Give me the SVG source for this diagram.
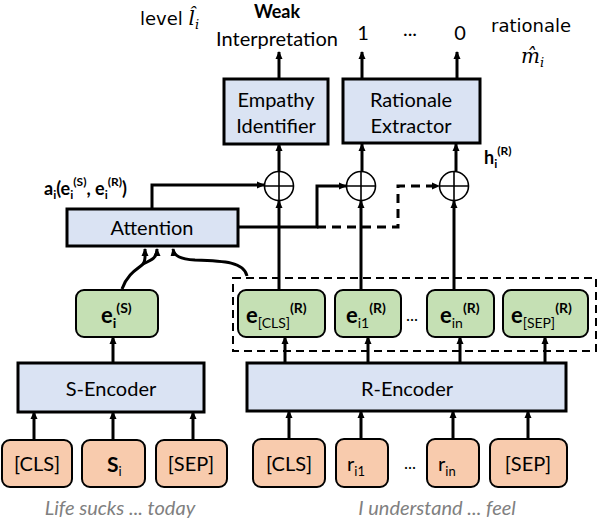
<svg xmlns="http://www.w3.org/2000/svg" width="598" height="520" viewBox="0 0 598 520">
<defs>
<marker id="ah" markerWidth="8" markerHeight="8" refX="7" refY="4" orient="auto" markerUnits="userSpaceOnUse">
<path d="M0,0.5 L8,4 L0,7.5 Z" fill="#000"/>
</marker>
<style>
text{font-family:Lato,"Liberation Sans",sans-serif;fill:#000}
.blue{fill:#dae3f3;stroke:#000;stroke-width:3}
.green{fill:#c5e0b4;stroke:#000;stroke-width:2}
.orange{fill:#f8cbad;stroke:#000;stroke-width:2}
.ln{fill:none;stroke:#000;stroke-width:3}
.dl{fill:none;stroke:#000;stroke-width:3;stroke-dasharray:9,6}
.c{fill:#fff;stroke:#000;stroke-width:1.6}
.lb{font-size:20px;text-anchor:middle}
.gray{font-size:20px;font-style:italic;fill:#808080;text-anchor:middle}
.math{font-family:"DejaVu Serif","Liberation Serif",serif;font-style:italic}
.geo{font-family:"DejaVu Sans","Liberation Sans",sans-serif}
</style>
</defs>

<g id="labels-top">
<text class="geo" x="140" y="25" font-size="18">level <tspan class="math" font-size="20">l̂</tspan><tspan class="math" font-size="13" dy="4">i</tspan></text>
<text x="277" y="18" font-size="18" font-weight="bold" text-anchor="middle">Weak</text>
<text x="277" y="46" class="lb">Interpretation</text>
<text x="363" y="40" class="lb">1</text>
<text x="410" y="36" class="lb">...</text>
<text x="460" y="40" class="lb">0</text>
<text class="geo" x="531" y="32" font-size="18" text-anchor="middle">rationale</text>
<text class="math" x="521" y="63" font-size="20">m̂<tspan font-size="13" dy="4">i</tspan></text>
</g>

<g id="connectors">
<line class="ln" x1="279" y1="79" x2="279" y2="52" marker-end="url(#ah)"/>
<line class="ln" x1="362" y1="79" x2="362" y2="52" marker-end="url(#ah)"/>
<line class="ln" x1="457" y1="79" x2="457" y2="52" marker-end="url(#ah)"/>
<line class="ln" x1="279" y1="171" x2="279" y2="144" marker-end="url(#ah)"/>
<line class="ln" x1="362" y1="171" x2="362" y2="144" marker-end="url(#ah)"/>
<line class="ln" x1="456" y1="171" x2="456" y2="144" marker-end="url(#ah)"/>
<line class="ln" x1="279" y1="290" x2="279" y2="201" marker-end="url(#ah)"/>
<line class="ln" x1="361" y1="290" x2="361" y2="201" marker-end="url(#ah)"/>
<line class="ln" x1="454" y1="290" x2="454" y2="201" marker-end="url(#ah)"/>
<polyline class="ln" points="152,209 152,185 264,185" marker-end="url(#ah)"/>
<polyline class="ln" points="238,227 317,227 317,186 346,186" marker-end="url(#ah)"/>
<polyline class="dl" points="317,227 398,227 398,186 439,186" marker-end="url(#ah)"/>
<path class="ln" d="M122,289 C128,272 140,268 143,264 C146,260 145,256 145,249" marker-end="url(#ah)"/>
<path class="ln" d="M143,264 C152,260 157,258 157,249" marker-end="url(#ah)"/>
<path class="ln" d="M247,276 C244,262 225,261 195,260 C180,259 174,256 173,249" marker-end="url(#ah)"/>
<line class="ln" x1="113" y1="363" x2="113" y2="337" marker-end="url(#ah)"/>
<line class="ln" x1="285" y1="363" x2="285" y2="337" marker-end="url(#ah)"/>
<line class="ln" x1="368" y1="363" x2="368" y2="337" marker-end="url(#ah)"/>
<line class="ln" x1="460" y1="363" x2="460" y2="337" marker-end="url(#ah)"/>
<line class="ln" x1="545" y1="363" x2="545" y2="337" marker-end="url(#ah)"/>
<line class="ln" x1="34" y1="440" x2="34" y2="412" marker-end="url(#ah)"/>
<line class="ln" x1="113" y1="440" x2="113" y2="412" marker-end="url(#ah)"/>
<line class="ln" x1="193" y1="440" x2="193" y2="412" marker-end="url(#ah)"/>
<line class="ln" x1="289" y1="439" x2="289" y2="411" marker-end="url(#ah)"/>
<line class="ln" x1="361" y1="439" x2="361" y2="411" marker-end="url(#ah)"/>
<line class="ln" x1="453" y1="439" x2="453" y2="411" marker-end="url(#ah)"/>
<line class="ln" x1="528" y1="439" x2="528" y2="411" marker-end="url(#ah)"/>
<rect x="233" y="278" width="363" height="73" fill="none" stroke="#000" stroke-width="2" stroke-dasharray="8,5"/>
</g>

<g id="empathy-identifier">
<rect class="blue" x="224" y="79" width="104" height="65"/>
<text class="lb" x="276" y="107">Empathy</text>
<text class="lb" x="276" y="133">Identifier</text>
</g>
<g id="rationale-extractor">
<rect class="blue" x="343" y="79" width="137" height="64"/>
<text class="lb" x="411" y="107">Rationale</text>
<text class="lb" x="411" y="133">Extractor</text>
</g>

<g id="plus1"><circle class="c" cx="279" cy="186" r="14.5"/><path d="M264.5,186H293.5M279,171.5V200.5" stroke="#000" stroke-width="1.6"/></g>
<g id="plus2"><circle class="c" cx="361" cy="186" r="14.5"/><path d="M346.5,186H375.5M361,171.5V200.5" stroke="#000" stroke-width="1.6"/></g>
<g id="plus3"><circle class="c" cx="454" cy="186" r="14.5"/><path d="M439.5,186H468.5M454,171.5V200.5" stroke="#000" stroke-width="1.6"/></g>

<g id="h-label"><text x="484" y="164" font-size="18" font-weight="bold">h<tspan font-size="12" dy="4">i</tspan><tspan font-size="12" dy="-13">(R)</tspan></text></g>
<g id="a-label"><text x="44" y="195" font-size="18" font-weight="bold">a<tspan font-size="12" dy="4">i</tspan><tspan dy="-4">(e</tspan><tspan font-size="12" dy="4">i</tspan><tspan font-size="12" dy="-13">(S)</tspan><tspan dy="9">, e</tspan><tspan font-size="12" dy="4">i</tspan><tspan font-size="12" dy="-13">(R)</tspan><tspan dy="9">)</tspan></text></g>

<g id="attention">
<rect class="blue" x="67" y="209" width="171" height="37"/>
<text class="lb" x="152" y="235">Attention</text>
</g>

<g id="e-s">
<rect class="green" x="76" y="290" width="82" height="47" rx="8"/>
<text x="101" y="323" font-size="22" font-weight="bold">e<tspan font-size="14" dy="5">i</tspan><tspan font-size="14" dy="-15">(S)</tspan></text>
</g>
<g id="e-cls">
<rect class="green" x="238" y="290" width="87" height="47" rx="8"/>
<text x="246" y="323" font-size="22" font-weight="bold">e<tspan font-size="14" font-weight="normal" dy="5">[CLS]</tspan><tspan font-size="14" dy="-15">(R)</tspan></text>
</g>
<g id="e-i1">
<rect class="green" x="335" y="290" width="66" height="47" rx="8"/>
<text x="346" y="323" font-size="22" font-weight="bold">e<tspan font-size="14" font-weight="normal" dy="5">i1</tspan><tspan font-size="14" dy="-15">(R)</tspan></text>
</g>
<text x="412" y="321" font-size="17" text-anchor="middle">...</text>
<g id="e-in">
<rect class="green" x="427" y="290" width="67" height="47" rx="8"/>
<text x="440" y="323" font-size="22" font-weight="bold">e<tspan font-size="14" font-weight="normal" dy="5">in</tspan><tspan font-size="14" dy="-15">(R)</tspan></text>
</g>
<g id="e-sep">
<rect class="green" x="503" y="290" width="85" height="47" rx="8"/>
<text x="511" y="323" font-size="22" font-weight="bold">e<tspan font-size="14" font-weight="normal" dy="5">[SEP]</tspan><tspan font-size="14" dy="-15">(R)</tspan></text>
</g>

<g id="s-encoder">
<rect class="blue" x="18" y="363" width="186" height="49"/>
<text class="lb" x="111" y="396">S-Encoder</text>
</g>
<g id="r-encoder">
<rect class="blue" x="247" y="363" width="319" height="48"/>
<text class="lb" x="407" y="396">R-Encoder</text>
</g>

<g id="s-cls"><rect class="orange" x="2" y="440" width="70" height="47" rx="8"/><text class="lb" x="37" y="471">[CLS]</text></g>
<g id="s-i"><rect class="orange" x="82" y="440" width="63" height="47" rx="8"/><text x="107" y="472" font-size="21" font-weight="bold">S<tspan font-size="13" font-weight="normal" dy="4">i</tspan></text></g>
<g id="s-sep"><rect class="orange" x="156" y="440" width="71" height="47" rx="8"/><text class="lb" x="191" y="471">[SEP]</text></g>

<g id="r-cls"><rect class="orange" x="253" y="439" width="72" height="48" rx="8"/><text class="lb" x="289" y="471">[CLS]</text></g>
<g id="r-i1"><rect class="orange" x="336" y="439" width="52" height="48" rx="8"/><text x="347" y="471" font-size="20">r<tspan font-size="13" dy="5">i1</tspan></text></g>
<text x="410" y="469" font-size="17" text-anchor="middle">...</text>
<g id="r-in"><rect class="orange" x="427" y="439" width="52" height="48" rx="8"/><text x="438" y="471" font-size="20">r<tspan font-size="13" dy="5">in</tspan></text></g>
<g id="r-sep"><rect class="orange" x="490" y="439" width="77" height="48" rx="8"/><text class="lb" x="528" y="471">[SEP]</text></g>

<g id="captions">
<text class="gray" x="120" y="515">Life sucks ... today</text>
<text class="gray" x="437" y="515">I understand ... feel</text>
</g>
</svg>
